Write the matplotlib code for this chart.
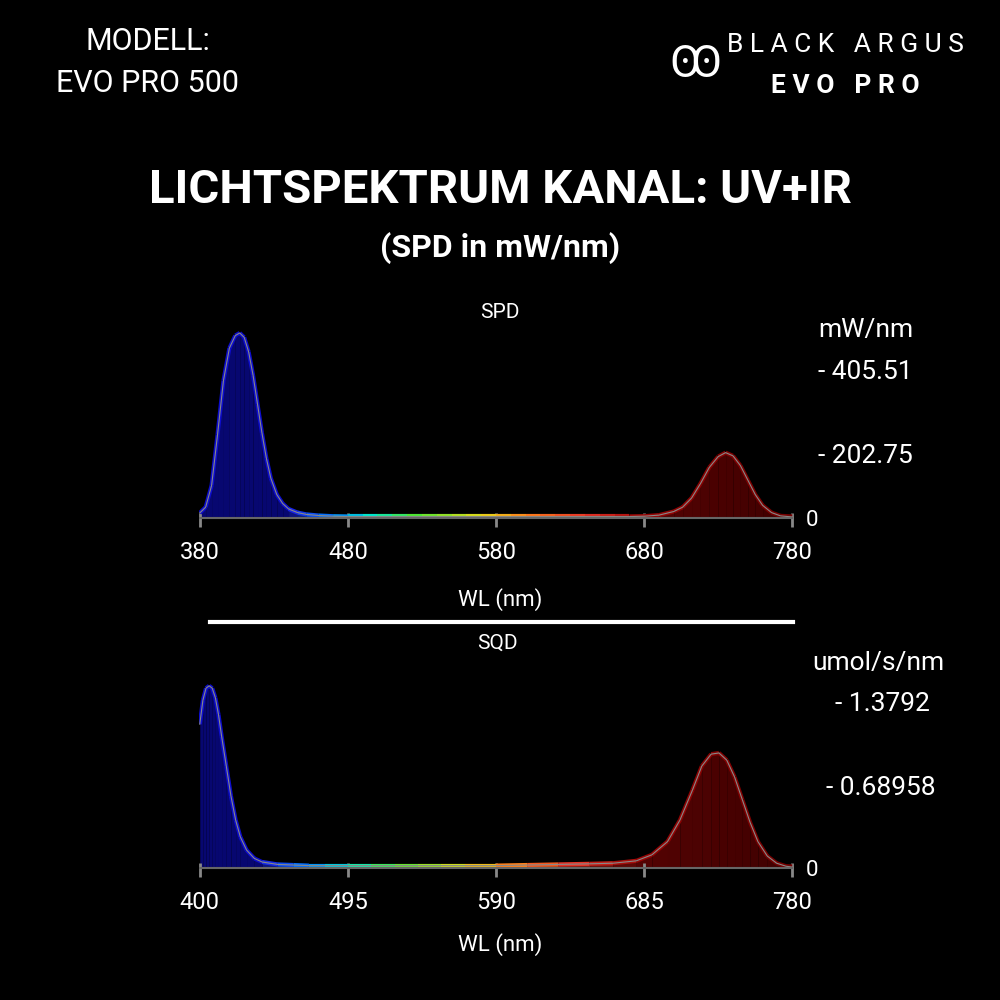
import numpy as np
import matplotlib
matplotlib.use("Agg")
import matplotlib.pyplot as plt

FONT = "Roboto"
spd_wl = [380,384,388,392,396,400,404,407,410,413,416,419,422,425,428,432,436,440,446,452,460,470,480,490,500,510,520,530,540,550,560,570,580,590,600,610,620,630,640,650,660,670,680,690,700,706,712,718,724,730,735,740,745,750,755,760,766,772,780]
spd_val = [14,30,90,230,380,470,505,512,500,460,395,315,235,165,110,65,40,25,15,10,7,5,4,4,4,4,4,4,4,4,4,4,4,4,4,4,4,4,4,4,4,4,5,8,18,30,55,95,140,170,181,172,145,105,65,35,15,6,3]
spd_ticks = [380,480,580,680,780]
spd_ylabels = ["405.51","202.75"]

sqd_wl = [400,402,404,406,408,410,412,414,417,420,423,426,430,435,440,450,460,470,480,495,510,525,540,555,570,590,610,630,650,665,680,690,700,708,716,722,728,733,738,743,748,753,758,764,770,776,780]
sqd_val = [1.20,1.40,1.50,1.52,1.50,1.42,1.28,1.10,0.85,0.60,0.40,0.26,0.15,0.08,0.05,0.03,0.025,0.02,0.02,0.02,0.02,0.02,0.02,0.02,0.02,0.02,0.025,0.03,0.035,0.04,0.06,0.11,0.22,0.40,0.65,0.85,0.95,0.96,0.90,0.76,0.57,0.38,0.22,0.10,0.04,0.015,0.008]
sqd_ticks = [400,495,590,685,780]
sqd_ylabels = ["1.3792","0.68958"]

def wl_color(w):
    if w < 440: return (0.05,0.05,0.8)
    stops = [(440,(0.1,0.1,0.9)),(470,(0.0,0.5,1.0)),(495,(0.0,0.9,0.8)),(525,(0.3,0.9,0.2)),
             (570,(0.9,0.85,0.1)),(600,(1.0,0.5,0.1)),(640,(0.9,0.2,0.15)),(680,(0.6,0.02,0.02)),(780,(0.45,0.0,0.0))]
    for (a,ca),(b,cb) in zip(stops[:-1],stops[1:]):
        if a <= w <= b:
            t=(w-a)/(b-a); return tuple(ca[i]+(cb[i]-ca[i])*t for i in range(3))
    return stops[-1][1]

fig = plt.figure(figsize=(10,10), dpi=100, facecolor="black")

def panel(rect, wl, val, ticks, ylim):
    ax = fig.add_axes(rect); ax.set_facecolor("black")
    x = np.array(wl, float); y = np.array(val, float)
    for i in range(len(x)-1):
        c = wl_color((x[i]+x[i+1])/2)
        ax.fill_between(x[i:i+2], 0, y[i:i+2], color=tuple(v*0.55 for v in c), lw=0)
        ax.plot(x[i:i+2], np.maximum(y[i:i+2], ylim*0.008), color=c, lw=3, solid_capstyle="butt")
    ax.plot(x, y, color="#888888", lw=0.8)
    ax.axhline(0, color="#666666", lw=1.5)
    ax.set_xlim(ticks[0]-0.5, ticks[-1]+0.5); ax.set_ylim(-ylim*0.01, ylim)
    ax.set_xticks(ticks); ax.set_xticklabels([str(t) for t in ticks], fontfamily=FONT)
    ax.tick_params(axis="x", colors="#888888", length=10, width=2, direction="inout", labelcolor="white", labelsize=17, pad=10)
    ax.set_yticks([])
    for s in ax.spines.values(): s.set_visible(False)
    return ax

ax1 = panel([0.199,0.48,0.594,0.2], spd_wl, spd_val, spd_ticks, 548)
ax2 = panel([0.199,0.13,0.594,0.2], sqd_wl, sqd_val, sqd_ticks, 1.652)

kw = dict(color="white", family=FONT, ha="center", va="center")
fig.text(0.148, 0.958, "MODELL:", fontsize=22, **kw)
fig.text(0.148, 0.917, "EVO PRO 500", fontsize=22, **kw)
fig.text(0.845, 0.955, "B L A C K   A R G U S", fontsize=19, **kw)
fig.text(0.845, 0.914, "E V O   P R O", fontsize=19, weight="bold", **kw)
fig.text(0.695, 0.935, "Ꙭ", fontsize=32, **kw)
fig.text(0.5, 0.81, "LICHTSPEKTRUM KANAL: UV+IR", fontsize=34, weight="bold", **kw)
fig.text(0.5, 0.752, "(SPD in mW/nm)", fontsize=23, weight="bold", **kw)
fig.text(0.5, 0.688, "SPD", fontsize=15, **kw)
fig.text(0.5, 0.40, "WL (nm)", fontsize=16, **kw)
fig.text(0.497, 0.357, "SQD", fontsize=15, **kw)
fig.text(0.5, 0.055, "WL (nm)", fontsize=16, **kw)
fig.add_artist(plt.Line2D([0.21,0.793],[0.378,0.378], color="white", lw=3))

tk = dict(color="white", family=FONT, va="center")
fig.text(0.818, 0.67, "mW/nm", fontsize=19, **tk)
fig.text(0.818, 0.628, "- " + spd_ylabels[0], fontsize=19, **tk)
fig.text(0.818, 0.544, "- " + spd_ylabels[1], fontsize=19, **tk)
fig.text(0.806, 0.479, "0", fontsize=16, **tk)
fig.text(0.812, 0.337, "umol/s/nm", fontsize=19, **tk)
fig.text(0.835, 0.296, "- " + sqd_ylabels[0], fontsize=19, **tk)
fig.text(0.826, 0.212, "- " + sqd_ylabels[1], fontsize=19, **tk)
fig.text(0.806, 0.129, "0", fontsize=16, **tk)

fig.savefig("out.png", dpi=100, facecolor="black")
